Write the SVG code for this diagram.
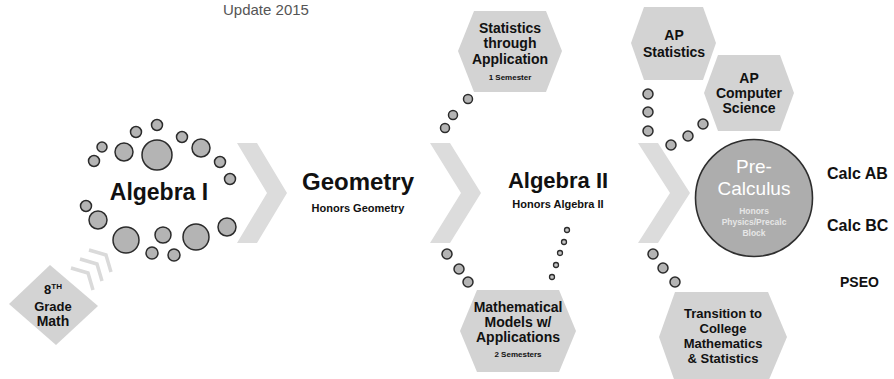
<svg xmlns="http://www.w3.org/2000/svg" width="894" height="379" viewBox="0 0 894 379">
<style>
text{font-family:"Liberation Sans",Arial,sans-serif;font-weight:bold;fill:#111;text-anchor:middle}
.hex{fill:#d3d3d3}
.chev{fill:#dcdcdc}
.dot{fill:#b4b4b4;stroke:#2b2b2b;stroke-width:1.5}
.sdot{fill:#c4c4c4;stroke:#2b2b2b;stroke-width:1.3}
.small{fill:none;stroke:#dadada;stroke-width:3.5;stroke-linejoin:miter}
.t14{font-size:14px}
.t13{font-size:13px}
.t8{font-size:8px}
</style>
<rect width="894" height="379" fill="#fff"/>
<text x="223" y="15" style="font-weight:normal;font-size:15px;fill:#555;text-anchor:start">Update 2015</text>

<g id="connectors">
  <polygon class="chev" points="237,143 257,143 287,193 257,243 237,243 267,193"/>
  <polygon class="chev" points="430,143 450,143 481,193 450,243 430,243 461,193"/>
  <polygon class="chev" points="638,143 658,143 690,193 658,243 638,243 670,193"/>
  <polyline class="small" points="71,268 88,273 93,290"/>
  <polyline class="small" points="80,259 97,264 102,281"/>
  <polyline class="small" points="89,250 106,255 111,272"/>
  <circle class="dot" cx="445" cy="128" r="4.5"/>
  <circle class="dot" cx="453" cy="115" r="4.5"/>
  <circle class="dot" cx="468" cy="99" r="4.5"/>
  <circle class="dot" cx="447" cy="254" r="5"/>
  <circle class="dot" cx="459" cy="269" r="5"/>
  <circle class="dot" cx="468" cy="282" r="5"/>
  <circle class="sdot" cx="567" cy="230" r="2.5"/>
  <circle class="sdot" cx="564" cy="242" r="2.5"/>
  <circle class="sdot" cx="560" cy="253" r="2.5"/>
  <circle class="sdot" cx="556" cy="265" r="2.5"/>
  <circle class="sdot" cx="552" cy="277" r="2.5"/>
  <circle class="dot" cx="648" cy="94" r="5"/>
  <circle class="dot" cx="648" cy="112" r="5"/>
  <circle class="dot" cx="648" cy="131" r="5"/>
  <circle class="dot" cx="671" cy="145" r="5"/>
  <circle class="dot" cx="688" cy="136" r="5"/>
  <circle class="dot" cx="703" cy="124" r="5"/>
  <circle class="dot" cx="653" cy="254" r="5"/>
  <circle class="dot" cx="663" cy="268" r="5"/>
  <circle class="dot" cx="675" cy="282" r="5"/>
</g>

<g id="grade8">
  <polygon points="9,304 50,265 98,306 56,345" fill="#d3d3d3"/>
  <text x="53" y="294" class="t13">8<tspan font-size="8" dy="-5">TH</tspan></text>
  <text x="53" y="311" class="t13">Grade</text>
  <text x="53" y="326" class="t14">Math</text>
</g>

<g id="algebra1">
  <circle class="dot" cx="102" cy="147" r="5"/>
  <circle class="dot" cx="94" cy="161" r="5.5"/>
  <circle class="dot" cx="136" cy="132" r="5.5"/>
  <circle class="dot" cx="157" cy="125" r="5.5"/>
  <circle class="dot" cx="124" cy="152" r="9"/>
  <circle class="dot" cx="157" cy="155" r="15"/>
  <circle class="dot" cx="182" cy="137" r="5.5"/>
  <circle class="dot" cx="201" cy="148" r="9"/>
  <circle class="dot" cx="220" cy="162" r="5.5"/>
  <circle class="dot" cx="230" cy="179" r="5.5"/>
  <circle class="dot" cx="86" cy="206" r="5.5"/>
  <circle class="dot" cx="98" cy="220" r="9"/>
  <circle class="dot" cx="126" cy="240" r="13"/>
  <circle class="dot" cx="163" cy="235" r="8"/>
  <circle class="dot" cx="196" cy="237" r="13"/>
  <circle class="dot" cx="227" cy="227" r="9"/>
  <circle class="dot" cx="152" cy="253" r="6"/>
  <circle class="dot" cx="174" cy="255" r="6"/>
  <text x="159" y="200" style="font-size:23px">Algebra I</text>
</g>

<g id="geometry">
  <text x="358" y="190" style="font-size:24px">Geometry</text>
  <text x="358" y="212" style="font-size:11px">Honors Geometry</text>
</g>

<g id="algebra2">
  <text x="558" y="188" style="font-size:22px">Algebra II</text>
  <text x="558" y="208" style="font-size:11px">Honors Algebra II</text>
</g>

<g id="stats-application">
  <polygon class="hex" points="458,51 474,11 546,11 562,51 546,92 474,92"/>
  <text x="510" y="33" class="t14">Statistics</text>
  <text x="510" y="48" class="t14">through</text>
  <text x="510" y="64" class="t14">Application</text>
  <text x="510" y="80" class="t8">1 Semester</text>
</g>

<g id="math-models">
  <polygon class="hex" points="460,331 477,290 559,290 576,331 559,372 477,372"/>
  <text x="518" y="312" class="t14">Mathematical</text>
  <text x="518" y="327" class="t14">Models w/</text>
  <text x="518" y="342" class="t14">Applications</text>
  <text x="518" y="357" class="t8">2 Semesters</text>
</g>

<g id="ap-statistics">
  <polygon class="hex" points="631,43 644,7 703,7 716,43 703,80 644,80"/>
  <text x="674" y="40" class="t14">AP</text>
  <text x="674" y="57" class="t14">Statistics</text>
</g>

<g id="ap-cs">
  <polygon class="hex" points="704,93 718,55 780,55 794,93 780,131 718,131"/>
  <text x="749" y="83" class="t14">AP</text>
  <text x="749" y="98" class="t14">Computer</text>
  <text x="749" y="113" class="t14">Science</text>
</g>

<g id="precalc">
  <circle cx="754" cy="198" r="58.5" fill="#adadad" stroke="#2e2e2e" stroke-width="1.6"/>
  <text x="754" y="173" style="font-weight:normal;font-size:19px;fill:#fff">Pre-</text>
  <text x="754" y="195" style="font-weight:normal;font-size:19px;fill:#fff">Calculus</text>
  <text x="754" y="214" style="font-size:8.5px;fill:#e6e6e6">Honors</text>
  <text x="754" y="225" style="font-size:8.5px;fill:#e6e6e6">Physics/Precalc</text>
  <text x="754" y="236" style="font-size:8.5px;fill:#e6e6e6">Block</text>
</g>

<g id="transition">
  <polygon class="hex" points="659,337 675,292 768,292 787,337 768,382 675,382"/>
  <text x="723" y="318" class="t13">Transition to</text>
  <text x="723" y="333" class="t13">College</text>
  <text x="723" y="348" class="t13">Mathematics</text>
  <text x="723" y="363" class="t13">&amp; Statistics</text>
</g>

<g id="calc-ab"><text x="827" y="179" style="font-size:16px;text-anchor:start">Calc AB</text></g>
<g id="calc-bc"><text x="827" y="231" style="font-size:16px;text-anchor:start">Calc BC</text></g>
<g id="pseo"><text x="840" y="287" style="font-size:14px;text-anchor:start">PSEO</text></g>
</svg>
